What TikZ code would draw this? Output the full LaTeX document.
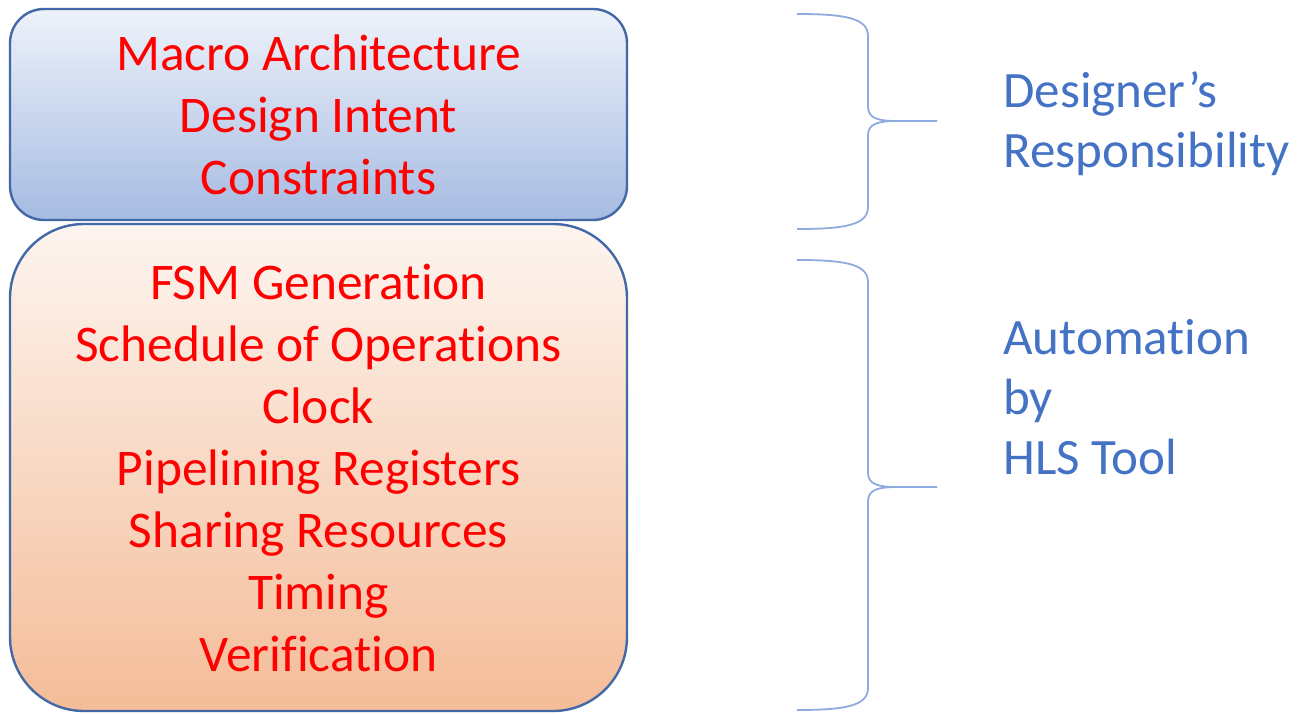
\documentclass[tikz,border=0pt]{standalone}
\usepackage{fontspec}
\setmainfont{Carlito}[Ligatures=NoCommon]
\usetikzlibrary{positioning}

\definecolor{boxline}{RGB}{66,104,166}
\definecolor{sideblue}{RGB}{68,114,196}
\definecolor{braceblue}{RGB}{143,170,220}

\begin{document}
\begin{tikzpicture}[x=0.5pt,y=-0.5pt,
    designbox/.style={draw=boxline, line width=1.2pt, rounded corners=17pt,
        top color={rgb,255:red,238;green,242;blue,250},
        bottom color={rgb,255:red,166;green,187;blue,226},
        text=red, align=center, font=\fontsize{25.7}{31}\selectfont},
    hlsbox/.style={draw=boxline, line width=1.2pt, rounded corners=37pt,
        top color={rgb,255:red,253;green,245;blue,240},
        middle color={rgb,255:red,249;green,218;blue,196},
        bottom color={rgb,255:red,244;green,188;blue,152},
        text=red, align=center, font=\fontsize{25.7}{31}\selectfont},
    sidetext/.style={text=sideblue, align=left, inner sep=0pt, anchor=west,
        font=\fontsize{25.5}{30}\selectfont},
    bracepath/.style={draw=braceblue, line width=0.9pt}]
    \useasboundingbox (0,0) rectangle (1308,713);

    % Draw the two boxes
    \node[designbox, minimum width=308.5pt, minimum height=105.5pt] (intent) at (318.5,114.5)
        {Macro Architecture\\Design Intent\\Constraints};
    \node[hlsbox, minimum width=308.5pt, minimum height=243.5pt] (tool) at (318.5,467.5)
        {FSM Generation\\Schedule of Operations\\Clock\\Pipelining Registers\\Sharing Resources\\Timing\\Verification};

    % Draw the braces
    \foreach \top/\tip/\bot in {14/121/229, 260/487/710} {
        \draw[bracepath] (797,\top) .. controls (845,\top) and (868,{\top+4}) .. (868,{\top+22})
            -- (868,{\tip-14}) .. controls (868,{\tip-2}) and (880,\tip) .. (897,\tip) -- (937,\tip);
        \draw[bracepath] (897,\tip) .. controls (880,\tip) and (868,{\tip+2}) .. (868,{\tip+14})
            -- (868,{\bot-22}) .. controls (868,{\bot-4}) and (845,\bot) .. (797,\bot);
    }

    % Labels on the right
    \node[sidetext] (designer) at (1003,124) {Designer’s\\Responsibility};
    \node[sidetext] (auto) at (1003,397) {Automation\\by\\HLS Tool};

\end{tikzpicture}
\end{document}
